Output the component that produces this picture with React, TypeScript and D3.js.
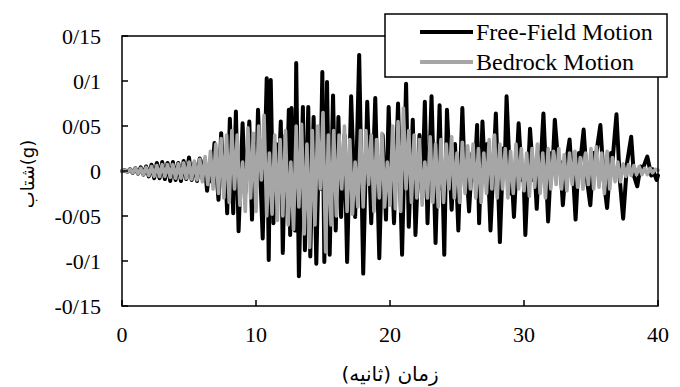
import React from 'react';
import * as d3 from 'd3';

const xTicks = [0, 10, 20, 30, 40];
const yTicks = [-0.15, -0.1, -0.05, 0, 0.05, 0.1, 0.15];
const yTickLabels = ['-0/15', '-0/1', '-0/05', '0', '0/05', '0/1', '0/15'];
const seriesNames = ['Free-Field Motion', 'Bedrock Motion'];
const xTitle = 'زمان (ثانیه)';
const yTitle = 'شتاب(g)';

// Free-field motion: [time (s), acceleration (g)]
const freeField: [number, number][] = [
  [0, 0], [0.2, 0.001], [0.4, -0.001], [0.6, 0.002], [0.8, -0.002], [1.0, 0.003], [1.2, -0.003],
  [1.4, 0.004], [1.6, -0.004], [1.8, 0.005], [2.0, -0.006], [2.2, 0.007], [2.4, -0.008], [2.6, 0.009],
  [2.8, -0.008], [3.0, 0.01], [3.2, -0.009], [3.4, 0.009], [3.6, -0.011], [3.8, 0.01], [4.0, -0.01],
  [4.2, 0.009], [4.4, -0.011], [4.6, 0.011], [4.8, -0.009], [5.0, 0.015], [5.2, -0.01], [5.4, 0.009],
  [5.6, -0.011], [5.8, 0.014], [6.0, -0.008], [6.15, 0.012], [6.35, -0.022], [6.55, 0.008], [6.7, -0.012],
  [6.9, 0.031], [7.2, -0.032], [7.4, 0.042], [7.6, -0.02], [7.7, 0.01], [7.85, -0.047], [8.05, 0.058],
  [8.3, -0.047], [8.5, 0.066], [8.7, -0.067], [9.0, 0.053], [9.2, -0.025], [9.5, 0.055], [9.7, -0.054],
  [9.9, 0.03], [10.0, -0.02], [10.15, 0.068], [10.5, -0.075], [10.8, 0.103], [10.95, -0.099], [11.1, 0.101],
  [11.3, -0.058], [11.5, 0.03], [11.65, -0.02], [11.85, 0.055], [12.0, -0.091], [12.2, 0.04], [12.3, -0.02],
  [12.45, 0.068], [12.55, -0.071], [12.65, 0.07], [12.9, -0.066], [13.0, 0.12], [13.2, -0.117], [13.5, 0.071],
  [13.65, -0.088], [13.9, 0.071], [14.05, -0.095], [14.3, 0.06], [14.5, -0.103], [14.7, 0.03], [14.8, -0.02],
  [14.95, 0.11], [15.1, -0.101], [15.3, 0.099], [15.5, -0.093], [15.75, 0.084], [15.95, -0.066], [16.15, 0.06],
  [16.35, -0.051], [16.6, 0.04], [16.8, -0.101], [17.1, 0.083], [17.4, -0.051], [17.7, 0.129], [18.0, -0.114],
  [18.3, 0.077], [18.6, -0.058], [18.9, 0.081], [19.2, -0.097], [19.45, 0.04], [19.7, -0.054], [19.9, 0.071],
  [20.1, -0.02], [20.15, 0.0], [20.3, -0.058], [20.6, 0.075], [20.9, -0.093], [21.2, 0.097], [21.4, -0.062],
  [21.7, 0.057], [21.9, -0.071], [22.2, 0.04], [22.4, -0.03], [22.6, 0.077], [22.8, -0.058], [23.1, 0.083],
  [23.4, -0.08], [23.7, 0.073], [23.85, -0.02], [23.9, 0.0], [24.05, -0.093], [24.25, 0.068], [24.6, -0.043],
  [24.85, 0.03], [25.1, -0.066], [25.4, 0.07], [25.6, -0.02], [25.7, 0.005], [25.9, -0.045], [26.15, 0.02],
  [26.3, -0.01], [26.5, 0.051], [26.65, -0.058], [26.9, 0.055], [27.1, -0.01], [27.25, 0.03], [27.5, -0.066],
  [27.9, 0.064], [28.2, -0.079], [28.45, 0.025], [28.55, 0.0], [28.7, 0.083], [29.0, -0.025], [29.1, -0.01],
  [29.25, -0.051], [29.6, 0.053], [29.85, -0.01], [29.95, 0.005], [30.1, -0.071], [30.45, 0.047], [30.7, -0.01],
  [30.8, 0.0], [30.95, -0.042], [31.15, 0.02], [31.25, 0.01], [31.45, 0.064], [31.8, -0.056], [32.05, 0.02],
  [32.15, 0.01], [32.3, 0.057], [32.6, 0.0], [32.7, 0.01], [32.9, -0.038], [33.15, 0.01], [33.4, 0.035],
  [33.6, -0.01], [33.65, 0.0], [33.85, -0.054], [34.1, 0.02], [34.2, 0.01], [34.45, 0.046], [34.7, -0.01],
  [34.95, -0.038], [35.2, 0.02], [35.3, 0.01], [35.7, 0.051], [35.95, -0.01], [36.2, -0.041], [36.5, 0.02],
  [36.6, 0.01], [36.9, 0.063], [37.15, -0.01], [37.4, -0.053], [37.7, 0.01], [38.0, 0.038], [38.2, -0.005],
  [38.45, -0.017], [38.7, 0.005], [38.8, 0.0], [39.2, 0.016], [39.5, -0.005], [39.6, 0.002], [39.9, -0.01],
  [40, -0.005],
];

const bedrockStep = 0.2;
const bedrock: number[] = [
  0, 0.001, -0.001, 0.002, -0.002, 0.003, -0.003, 0.003, -0.004, 0.004,
  -0.005, 0.005, -0.006, 0.006, -0.006, 0.007, -0.006, 0.007, -0.007, 0.007,
  -0.008, 0.008, -0.008, 0.009, -0.008, 0.01, -0.009, 0.011, -0.01, 0.013,
  -0.012, 0.016, -0.015, 0.022, -0.02, 0.03, -0.025, 0.036, -0.03, 0.04,
  -0.035, 0.045, -0.02, 0.04, -0.038, 0.01, -0.045, 0.048, -0.03, 0.042,
  -0.045, 0.05, -0.01, 0.062, -0.05, 0.02, -0.048, 0.04, -0.055, 0.035,
  -0.05, 0.045, -0.06, 0.01, -0.065, 0.05, -0.04, 0.052, -0.07, 0.03,
  -0.085, 0.045, -0.06, 0.05, -0.02, 0.065, -0.09, 0.04, -0.06, 0.045,
  -0.05, 0.04, -0.02, 0.05, -0.045, 0.035, -0.048, 0.01, -0.04, 0.045,
  -0.04, 0.045, -0.015, 0.04, -0.045, 0.035, -0.03, 0.042, -0.04, 0.01,
  -0.038, 0.05, -0.042, 0.055, -0.045, 0.07, -0.02, 0.045, -0.035, 0.04,
  -0.03, 0.035, -0.038, 0.01, -0.03, 0.038, -0.035, 0.03, -0.04, 0.035,
  -0.035, 0.03, -0.02, 0.038, -0.03, 0.02, -0.035, 0.032, -0.025, 0.028,
  -0.02, 0.03, -0.03, 0.025, -0.035, 0.02, -0.025, 0.035, -0.02, 0.04,
  -0.03, 0.03, -0.02, 0.025, -0.03, 0.022, -0.025, 0.03, -0.02, 0.025,
  -0.022, 0.02, -0.028, 0.025, -0.018, 0.03, -0.025, 0.02, -0.03, 0.025,
  -0.02, 0.022, -0.015, 0.025, -0.02, 0.018, -0.022, 0.02, -0.015, 0.022,
  -0.018, 0.015, -0.02, 0.02, -0.015, 0.025, -0.02, 0.027, -0.018, 0.02,
  -0.025, 0.022, -0.02, 0.015, -0.012, 0.01, -0.012, 0.008, -0.006, 0.007,
  -0.005, 0.006, -0.004, 0.005, -0.004, 0.003, -0.004, 0.003, -0.002, 0.002, 0.001,
];

const colors = ['#000000', '#a6a6a6'];
const serif = "'Liberation Serif', 'Times New Roman', serif";
const arabic = "'DejaVu Sans', sans-serif";

export default function App() {
  const W = 680;
  const H = 387;
  const left = 122, right = 658, top = 36, bottom = 306;
  const x = d3.scaleLinear().domain([0, 40]).range([left, right]);
  const y = d3.scaleLinear().domain([-0.15, 0.15]).range([bottom, top]);
  const line = d3
    .line<[number, number]>()
    .x((d) => x(d[0]))
    .y((d) => y(d[1]));
  const bedPts: [number, number][] = bedrock.map((v, i) => [i * bedrockStep, v]);

  const legend = { x0: 385, y0: 14, x1: 667, y1: 77 };

  return (
    <svg
      width={W}
      height={H}
      style={{ position: 'absolute', left: 0, top: 0, background: '#fff', fontFamily: serif }}
    >
      <rect x={0} y={0} width={W} height={H} fill="#fff" />
      <path d={line(freeField) || ''} fill="none" stroke={colors[0]} strokeWidth={4} strokeLinejoin="round" strokeLinecap="round" />
      <path d={line(bedPts) || ''} fill="none" stroke={colors[1]} strokeWidth={3.6} strokeLinejoin="round" strokeLinecap="round" />
      <rect x={left} y={top} width={right - left} height={bottom - top} fill="none" stroke="#000" strokeWidth={1.5} />
      {yTicks.map((t, i) => (
        <g key={'y' + i}>
          <line x1={left} x2={left + 6} y1={y(t)} y2={y(t)} stroke="#000" strokeWidth={1.5} />
          <text x={101} y={y(t)} dy="0.35em" textAnchor="end" style={{ fontFamily: serif, fontSize: 22 }}>
            {yTickLabels[i]}
          </text>
        </g>
      ))}
      {xTicks.map((t, i) => (
        <g key={'x' + i}>
          <line x1={x(t)} x2={x(t)} y1={bottom} y2={bottom - 6} stroke="#000" strokeWidth={1.5} />
          <text x={x(t)} y={342} textAnchor="middle" style={{ fontFamily: serif, fontSize: 22 }}>
            {t}
          </text>
        </g>
      ))}
      <text x={390} y={381} textAnchor="middle" direction="rtl" style={{ fontFamily: arabic, fontSize: 20 }}>
        {xTitle}
      </text>
      <text transform={`translate(34,174) rotate(-90)`} textAnchor="middle" style={{ fontFamily: arabic, fontSize: 18 }}>
        {yTitle}
      </text>
      <rect x={legend.x0} y={legend.y0} width={legend.x1 - legend.x0} height={legend.y1 - legend.y0} fill="#fff" stroke="#000" strokeWidth={1.5} />
      {seriesNames.map((n, i) => (
        <g key={n}>
          <line x1={420} x2={473} y1={32 + i * 30} y2={32 + i * 30} stroke={colors[i]} strokeWidth={4} />
          <text x={476} y={32 + i * 30} dy="0.35em" style={{ fontFamily: serif, fontSize: 24 }}>
            {n}
          </text>
        </g>
      ))}
    </svg>
  );
}
